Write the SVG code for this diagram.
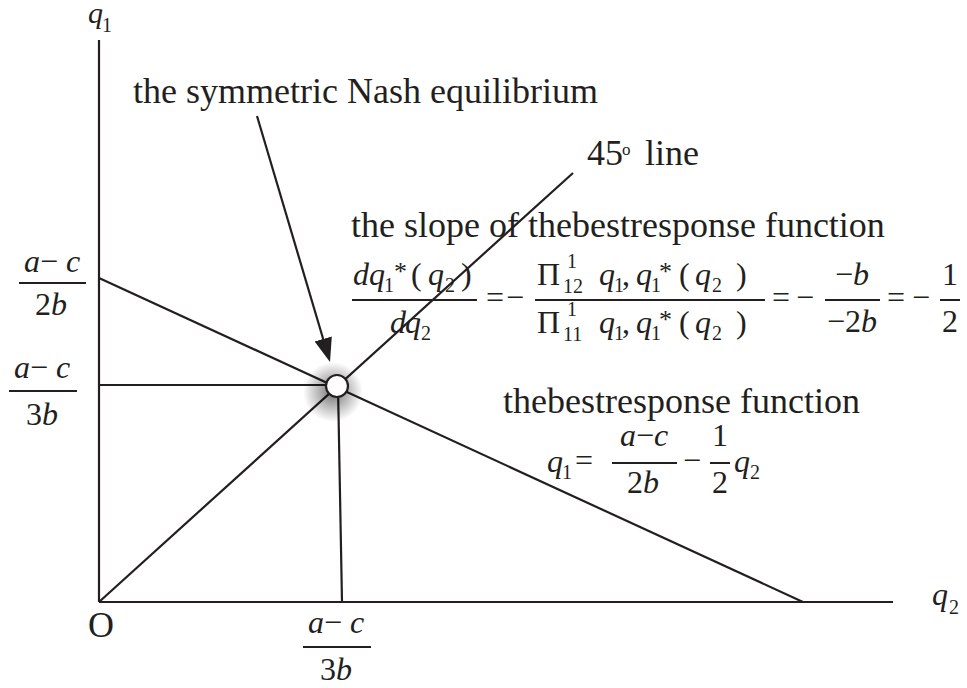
<svg xmlns="http://www.w3.org/2000/svg" width="967" height="688" viewBox="0 0 967 688">
<defs>
<style>
text{font-family:"Liberation Serif","Times New Roman",serif;fill:#231f20;}
.t{font-size:36px;}
.m{font-size:32px;}
.i{font-style:italic;}
.s{font-size:20px;}
.st{font-size:26px;}
.ln{stroke:#231f20;stroke-width:2.2;fill:none;}
.bar{stroke:#231f20;stroke-width:2;}
</style>
<radialGradient id="shadow" cx="0.5" cy="0.5" r="0.5">
<stop offset="0" stop-color="#000" stop-opacity="0.55"/>
<stop offset="0.45" stop-color="#000" stop-opacity="0.3"/>
<stop offset="1" stop-color="#000" stop-opacity="0"/>
</radialGradient>
<marker id="arrow" markerUnits="userSpaceOnUse" markerWidth="24" markerHeight="18" refX="18" refY="9" orient="auto">
<path d="M0,0 L24,9 L0,18 z" fill="#231f20"/>
</marker>
</defs>
<rect width="967" height="688" fill="#fff"/>

<g id="axes">
<line class="ln" x1="99" y1="40" x2="99" y2="602"/>
<line class="ln" x1="99" y1="602" x2="893" y2="602"/>
</g>

<g id="connectors">
<line id="best-response" class="ln" x1="99" y1="278" x2="803" y2="602"/>
<line id="line45" class="ln" x1="99" y1="602" x2="573" y2="173"/>
<line id="h-guide" class="ln" x1="99" y1="385" x2="337" y2="385"/>
<line id="v-guide" class="ln" x1="338" y1="386" x2="342" y2="602"/>
<line id="nash-arrow" class="ln" x1="257" y1="116" x2="328.3" y2="356.2" marker-end="url(#arrow)"/>
</g>

<g id="nash-point">
<circle cx="333" cy="392" r="30" fill="url(#shadow)"/>
<circle cx="337" cy="386" r="11" fill="#fff" stroke="#231f20" stroke-width="2.2"/>
</g>

<g id="axis-labels">
<text class="i" x="88" y="23" font-size="30">q</text>
<text class="s" x="102" y="32">1</text>
<text class="m i" x="932" y="605">q</text>
<text class="s" x="949" y="614">2</text>
<text class="t" x="88" y="637" font-size="34">O</text>
</g>

<g id="label-2b">
<text class="m" x="52" y="272" text-anchor="middle"><tspan class="i">a</tspan>− <tspan class="i">c</tspan></text>
<line class="bar" x1="19" y1="283" x2="86" y2="283"/>
<text class="m" x="51" y="315" text-anchor="middle">2<tspan class="i">b</tspan></text>
</g>

<g id="label-3b-y">
<text class="m" x="42" y="378" text-anchor="middle"><tspan class="i">a</tspan>− <tspan class="i">c</tspan></text>
<line class="bar" x1="9" y1="391" x2="77" y2="391"/>
<text class="m" x="42" y="425" text-anchor="middle">3<tspan class="i">b</tspan></text>
</g>

<g id="label-3b-x">
<text class="m" x="336" y="633" text-anchor="middle"><tspan class="i">a</tspan>− <tspan class="i">c</tspan></text>
<line class="bar" x1="303" y1="647" x2="371" y2="647"/>
<text class="m" x="336" y="680" text-anchor="middle">3<tspan class="i">b</tspan></text>
</g>

<g id="nash-label">
<text class="t" x="133" y="103">the symmetric Nash equilibrium</text>
</g>

<g id="label-45">
<text class="t" x="587" y="165">45</text>
<text x="622" y="155" font-size="17">o</text>
<text class="t" x="645" y="165">line</text>
</g>

<g id="slope-label">
<text class="t" x="351" y="237">the slope of thebestresponse function</text>
<!-- first fraction -->
<text class="m i" x="353" y="285">d</text>
<text class="m i" x="369" y="285">q</text>
<text class="s" x="384" y="292">1</text>
<text class="st" x="394" y="280">*</text>
<text class="m" x="411" y="285">(</text>
<text class="m i" x="428" y="285">q</text>
<text class="s" x="445" y="292">2</text>
<text class="m" x="461" y="285">)</text>
<line class="bar" x1="352" y1="300" x2="477" y2="300"/>
<text class="m i" x="390" y="333">d</text>
<text class="m i" x="405" y="333">q</text>
<text class="s" x="421" y="340">2</text>
<text class="m" x="486" y="308">=</text>
<text class="m" x="506" y="308">−</text>
<!-- second fraction -->
<text class="m" x="537" y="285">Π</text>
<text class="s" x="567" y="268">1</text>
<text class="s" x="563" y="293">12</text>
<text class="m i" x="599" y="285">q</text>
<text class="s" x="614" y="292">1</text>
<text class="m" x="622" y="285">,</text>
<text class="m i" x="636" y="285">q</text>
<text class="s" x="651" y="292">1</text>
<text class="st" x="659" y="280">*</text>
<text class="m" x="679" y="285">(</text>
<text class="m i" x="695" y="285">q</text>
<text class="s" x="712" y="292">2</text>
<text class="m" x="736" y="285">)</text>
<line class="bar" x1="535" y1="300" x2="765" y2="300"/>
<text class="m" x="537" y="333">Π</text>
<text class="s" x="567" y="316">1</text>
<text class="s" x="563" y="341">11</text>
<text class="m i" x="599" y="333">q</text>
<text class="s" x="614" y="340">1</text>
<text class="m" x="622" y="333">,</text>
<text class="m i" x="636" y="333">q</text>
<text class="s" x="651" y="340">1</text>
<text class="st" x="659" y="328">*</text>
<text class="m" x="679" y="333">(</text>
<text class="m i" x="695" y="333">q</text>
<text class="s" x="712" y="340">2</text>
<text class="m" x="736" y="333">)</text>
<text class="m" x="772" y="308">=</text>
<text class="m" x="796" y="308">−</text>
<!-- third fraction -->
<text class="m" x="852" y="285" text-anchor="middle">−<tspan class="i">b</tspan></text>
<line class="bar" x1="825" y1="300" x2="880" y2="300"/>
<text class="m" x="852" y="332" text-anchor="middle">−2<tspan class="i">b</tspan></text>
<text class="m" x="887" y="308">=</text>
<text class="m" x="912" y="308">−</text>
<text class="m" x="950" y="285" text-anchor="middle">1</text>
<line class="bar" x1="940" y1="300" x2="960" y2="300"/>
<text class="m" x="950" y="332" text-anchor="middle">2</text>
</g>

<g id="best-response-label">
<text class="t" x="503" y="413">thebestresponse function</text>
<text class="m i" x="547" y="472">q</text>
<text class="s" x="562" y="479">1</text>
<text class="m" x="575" y="471">=</text>
<text class="m" x="644" y="446" text-anchor="middle"><tspan class="i">a</tspan>−<tspan class="i">c</tspan></text>
<line class="bar" x1="612" y1="463" x2="677" y2="463"/>
<text class="m" x="643" y="493" text-anchor="middle">2<tspan class="i">b</tspan></text>
<text class="m" x="683" y="471">−</text>
<text class="m" x="720" y="446" text-anchor="middle">1</text>
<line class="bar" x1="710" y1="463" x2="730" y2="463"/>
<text class="m" x="720" y="493" text-anchor="middle">2</text>
<text class="m i" x="734" y="472">q</text>
<text class="s" x="750" y="479">2</text>
</g>
</svg>
